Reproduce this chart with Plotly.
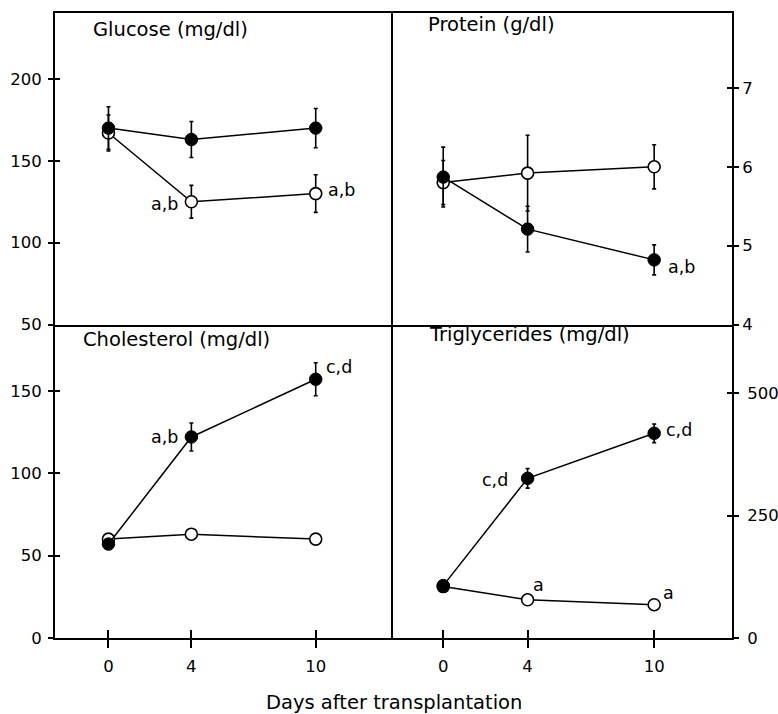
import plotly.graph_objects as go

# ---------------- data ----------------
days = [0, 4, 10]
day_labels = ["0", "4", "10"]

glucose_open = [167, 125, 130]
glucose_open_err = [11, 10, 11.5]
glucose_filled = [170, 163, 170]
glucose_filled_err = [13, 11, 12]

protein_open = [5.80, 5.92, 6.00]
protein_open_err = [0.28, 0.48, 0.28]
protein_filled = [5.87, 5.21, 4.82]
protein_filled_err = [0.38, 0.29, 0.19]

chol_open = [60, 63, 60]
chol_open_err = [0, 0, 0]
chol_filled = [57, 122, 157]
chol_filled_err = [0, 8.5, 10]

trig_open = [105, 78, 68]
trig_open_err = [0, 0, 0]
trig_filled = [107, 326, 418]
trig_filled_err = [0, 20, 19]

panel_titles = ["Glucose (mg/dl)", "Protein (g/dl)", "Cholesterol (mg/dl)", "Triglycerides (mg/dl)"]
x_title = "Days after transplantation"

glucose_ticks = [50, 100, 150, 200]
protein_ticks = [4, 5, 6, 7]
chol_ticks = [0, 50, 100, 150]
trig_ticks = [0, 250, 500]

# annotations: (panel index, series, point index, text)
labels = [
    (1, "open", 1, "a,b"),
    (1, "open", 2, "a,b"),
    (2, "filled", 2, "a,b"),
    (3, "filled", 1, "a,b"),
    (3, "filled", 2, "c,d"),
    (4, "filled", 1, "c,d"),
    (4, "filled", 2, "c,d"),
    (4, "open", 1, "a"),
    (4, "open", 2, "a"),
]
# placement styles for those labels (anchor, xshift, yshift)
label_style = [
    ("right", -11, -2),
    ("left", 10, 4),
    ("left", 12, -7),
    ("right", -11, 0),
    ("left", 8, 12),
    ("right", -18, -2),
    ("left", 10, 3),
    ("left", 3, 15),
    ("left", 7, 12),
]

FONT = "DejaVu Sans"
panels = {
    1: (glucose_open, glucose_open_err, glucose_filled, glucose_filled_err),
    2: (protein_open, protein_open_err, protein_filled, protein_filled_err),
    3: (chol_open, chol_open_err, chol_filled, chol_filled_err),
    4: (trig_open, trig_open_err, trig_filled, trig_filled_err),
}

fig = go.Figure()

def axn(i):
    return "" if i == 1 else str(i)

for i, (yo, eo, yf, ef) in panels.items():
    xa = "x" + axn(i)
    ya = "y" + axn(i)
    # open circles (drawn first, under filled)
    fig.add_trace(go.Scatter(
        x=days, y=yo, xaxis=xa, yaxis=ya, mode="lines+markers",
        line=dict(color="black", width=1.5),
        marker=dict(size=12, color="white", line=dict(color="black", width=1.6)),
        error_y=dict(type="data", array=eo, visible=True, color="black", thickness=1.6, width=2),
        showlegend=False, hoverinfo="x+y",
    ))
    fig.add_trace(go.Scatter(
        x=days, y=yf, xaxis=xa, yaxis=ya, mode="lines+markers",
        line=dict(color="black", width=1.5),
        marker=dict(size=12.5, color="black", line=dict(color="black", width=1)),
        error_y=dict(type="data", array=ef, visible=True, color="black", thickness=1.6, width=2),
        showlegend=False, hoverinfo="x+y",
    ))

# empty traces to host overlay axes (for ticks crossing the axis lines)
overlay_pairs = [("x", "y5"), ("x2", "y6"), ("x3", "y7"), ("x4", "y8"), ("x5", "y3"), ("x6", "y4")]
for xa, ya in overlay_pairs:
    fig.add_trace(go.Scatter(x=[None], y=[None], xaxis=xa, yaxis=ya, mode="markers",
                             showlegend=False, hoverinfo="skip"))

XL = [-2.58, 13.72]
XR = [-2.39, 13.69]
split_x = 0.499
split_y = 0.5015
yr1 = [50, 240.3]
yr2 = [4, 7.95]
yr3 = [0, 190.2]
yr4 = [0, 640]

tickfont = dict(family=FONT, size=16.5, color="black")
base = dict(showline=True, linecolor="black", linewidth=1.7,
            showgrid=False, zeroline=False, fixedrange=True, automargin=False)
tick_style = dict(tickwidth=1.6, tickcolor="black", tickfont=tickfont)

fig.update_layout(
    width=778, height=714,
    margin=dict(l=55, r=46.3, t=13, b=75.7, autoexpand=False),
    paper_bgcolor="white", plot_bgcolor="white",
    font=dict(family=FONT, color="black"),
    # top panels: x lines drawn at top and at the middle divider
    xaxis=dict(domain=[0, split_x], anchor="y", range=XL, ticks="", showticklabels=False, mirror=True, **base),
    xaxis2=dict(domain=[split_x, 1], anchor="y2", range=XR, ticks="", showticklabels=False, mirror=True, **base),
    # bottom panels: only the bottom line
    xaxis3=dict(domain=[0, split_x], anchor="y3", range=XL, tickvals=days, ticktext=day_labels,
                ticks="outside", ticklen=8, ticklabelstandoff=4, mirror=False, **tick_style, **base),
    xaxis4=dict(domain=[split_x, 1], anchor="y4", range=XR, tickvals=days, ticktext=day_labels,
                ticks="outside", ticklen=8, ticklabelstandoff=4, mirror=False, **tick_style, **base),
    # left panels: only the left line; right panels draw the divider and right edge
    yaxis=dict(domain=[split_y, 1], anchor="x", range=yr1, tickvals=glucose_ticks,
               ticks="outside", ticklen=5, ticklabelstandoff=3, side="left", mirror=False, **tick_style, **base),
    yaxis2=dict(domain=[split_y, 1], anchor="x2", range=yr2, tickvals=protein_ticks,
                ticks="outside", ticklen=5, ticklabelstandoff=0, side="right", mirror=True, **tick_style, **base),
    yaxis3=dict(domain=[0, split_y], anchor="x3", range=yr3, tickvals=chol_ticks,
                ticks="outside", ticklen=5, ticklabelstandoff=3, side="left", mirror=False, **tick_style, **base),
    yaxis4=dict(domain=[0, split_y], anchor="x4", range=yr4, tickvals=trig_ticks,
                ticks="outside", ticklen=5, ticklabelstandoff=5, side="right", mirror=True, **tick_style, **base),
)

inside_common = dict(showline=False, showgrid=False, zeroline=False, showticklabels=False,
                     ticks="inside", tickwidth=1.6, tickcolor="black", fixedrange=True, automargin=False)
fig.update_layout(
    yaxis5=dict(overlaying="y", anchor="x", side="left", range=yr1, tickvals=glucose_ticks, ticklen=5, **inside_common),
    yaxis6=dict(overlaying="y2", anchor="x2", side="right", range=yr2, tickvals=protein_ticks, ticklen=5, **inside_common),
    yaxis7=dict(overlaying="y3", anchor="x3", side="left", range=yr3, tickvals=chol_ticks, ticklen=5, **inside_common),
    yaxis8=dict(overlaying="y4", anchor="x4", side="right", range=yr4, tickvals=trig_ticks, ticklen=5, **inside_common),
    xaxis5=dict(overlaying="x3", anchor="y3", side="bottom", range=XL, tickvals=days, ticklen=8, **inside_common),
    xaxis6=dict(overlaying="x4", anchor="y4", side="bottom", range=XR, tickvals=days, ticklen=8, **inside_common),
)

# panel titles
title_pos = [(0.1065, 0.948), (0.099, 0.962), (0.078, 0.951), (0.102, 0.967)]
annotations = []
for i, (t, (px, py)) in enumerate(zip(panel_titles, title_pos), start=1):
    annotations.append(dict(text=t, xref="x" + axn(i) + " domain", yref="y" + axn(i) + " domain",
                            x=px, y=py, xanchor="left", yanchor="middle", showarrow=False,
                            font=dict(family=FONT, size=19.5, color="black")))

series_map = {i: {"open": panels[i][0], "filled": panels[i][2]} for i in panels}
for (pi, ser, idx, txt), (anc, dx, dy) in zip(labels, label_style):
    annotations.append(dict(text=txt, xref="x" + axn(pi), yref="y" + axn(pi),
                            x=days[idx], y=series_map[pi][ser][idx],
                            xanchor=anc, yanchor="middle", xshift=dx, yshift=dy, showarrow=False,
                            font=dict(family=FONT, size=17.5, color="black")))

annotations.append(dict(text=x_title, xref="paper", yref="paper", x=0.5, y=-0.1035,
                        xanchor="center", yanchor="middle", showarrow=False,
                        font=dict(family=FONT, size=19.5, color="black")))
fig.update_layout(annotations=annotations)

# remove the default page margin so the figure fills the 778x714 window exactly
fig.write_html("out.html",
               config={"displayModeBar": False},
               post_script="document.body.style.margin='0';document.body.style.overflow='hidden';")
